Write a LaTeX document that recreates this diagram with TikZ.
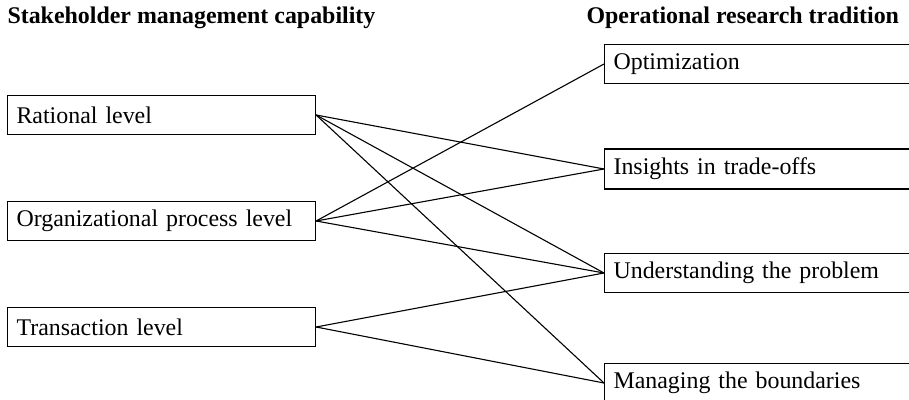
\documentclass[tikz,border=0pt]{standalone}
\usepackage{fontspec}
\setmainfont{Liberation Serif}
\begin{document}
\begin{tikzpicture}[x=0.5pt,y=-0.5pt,line width=0.55pt,
		levelbox/.style={draw,anchor=west,text width=145pt,inner sep=4.5pt,minimum height=19.5pt,align=left,font=\fontsize{11.95}{13.5}\selectfont},
		headline/.style={anchor=west,inner sep=0pt,font=\fontsize{11.95}{13.5}\selectfont\bfseries}]
		\useasboundingbox (0,0) rectangle (909,400);
		\clip (0,0) rectangle (909,400);
		% headings
		\node[headline] (smc) at (7,18) {Stakeholder management capability};
		\node[headline] (ort) at (586,18) {Operational research tradition};
		% left column
		\node[levelbox] (rat) at (7,115) {Rational level};
		\node[levelbox] (org) at (7,221) {Organizational process level};
		\node[levelbox] (tra) at (7,327) {Transaction level};
		% right column
		\node[levelbox] (opt) at (604,64) {Optimization};
		\node[levelbox] (ins) at (604,169) {Insights in trade-offs};
		\node[levelbox] (und) at (604,273) {Understanding the problem};
		\node[levelbox] (man) at (604,383) {Managing the boundaries};
		% links
		\draw (rat.east) -- (ins.west);
		\draw (rat.east) -- (und.west);
		\draw (rat.east) -- (man.west);
		\draw (org.east) -- (opt.west);
		\draw (org.east) -- (ins.west);
		\draw (org.east) -- (und.west);
		\draw (tra.east) -- (und.west);
		\draw (tra.east) -- (man.west);
		\end{tikzpicture}
\end{document}
